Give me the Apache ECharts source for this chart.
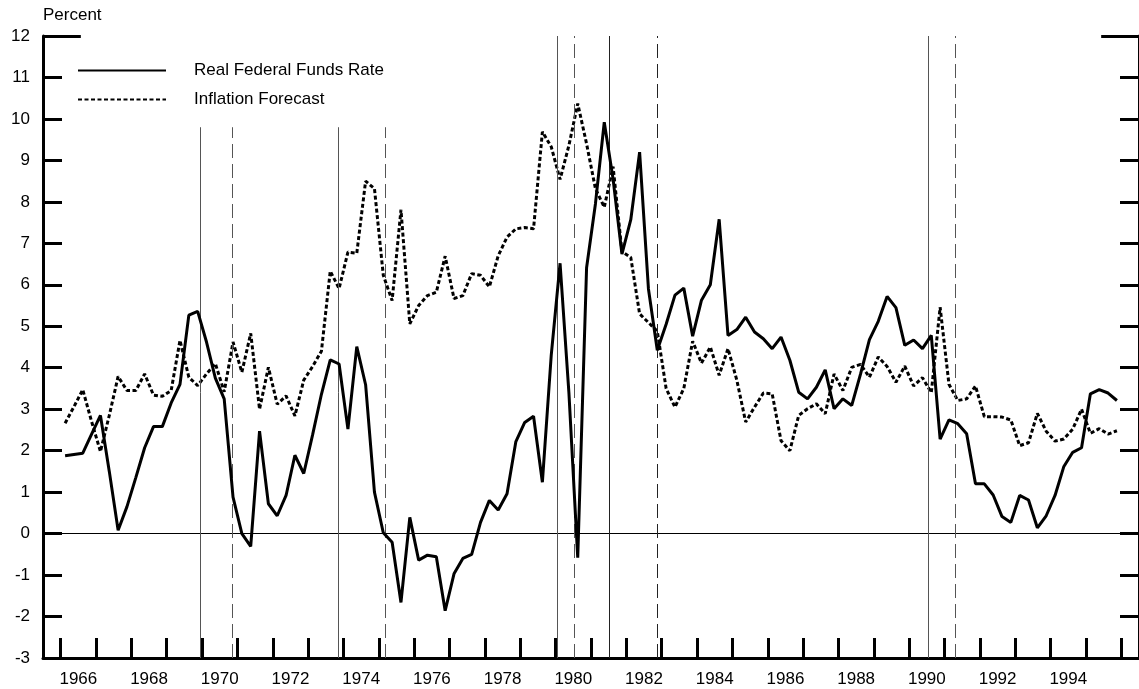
<!DOCTYPE html>
<html>
<head>
<meta charset="utf-8">
<script src="https://cdn.jsdelivr.net/npm/echarts@6/dist/echarts.min.js"></script>
<style>
  html, body { margin: 0; padding: 0; background: #fff; }
  #chart { width: 1139px; height: 689px; }
</style>
</head>
<body>
<div id="chart"></div>
<script>
// quarterly data, 1966Q1 - 1995Q4
const startYear = 1966
const realRate = [
  1.88, 1.91, 1.94, 2.40, 2.85, 1.50, 0.08, 0.65, 1.35, 2.07,
  2.58, 2.58, 3.15, 3.60, 5.27, 5.36, 4.62, 3.75, 3.25, 0.88,
  0.00, -0.31, 2.47, 0.72, 0.43, 0.92, 1.89, 1.45, 2.38, 3.36,
  4.19, 4.09, 2.52, 4.51, 3.59, 1.00, 0.02, -0.21, -1.66, 0.39,
  -0.64, -0.52, -0.56, -1.86, -0.97, -0.60, -0.50, 0.27, 0.80, 0.57,
  0.96, 2.22, 2.68, 2.83, 1.24, 4.30, 6.52, 3.40, -0.58, 6.41,
  7.95, 9.92, 8.55, 6.74, 7.57, 9.20, 5.90, 4.42, 5.05, 5.75,
  5.92, 4.76, 5.63, 6.00, 7.58, 4.78, 4.92, 5.22, 4.86, 4.70,
  4.46, 4.74, 4.18, 3.41, 3.25, 3.53, 3.95, 3.01, 3.25, 3.09,
  3.85, 4.68, 5.12, 5.72, 5.45, 4.54, 4.67, 4.46, 4.78, 2.28,
  2.74, 2.65, 2.41, 1.20, 1.20, 0.93, 0.41, 0.27, 0.92, 0.81,
  0.14, 0.43, 0.92, 1.62, 1.96, 2.07, 3.37, 3.47, 3.39, 3.21
]
const inflationForecast = [
  2.66, 3.06, 3.47, 2.70, 1.98, 2.85, 3.79, 3.45, 3.45, 3.85,
  3.34, 3.31, 3.45, 4.66, 3.77, 3.57, 3.85, 4.10, 3.42, 4.62,
  3.89, 4.83, 3.00, 4.01, 3.12, 3.32, 2.84, 3.70, 4.03, 4.40,
  6.33, 5.91, 6.79, 6.76, 8.50, 8.32, 6.23, 5.62, 7.81, 5.06,
  5.50, 5.74, 5.82, 6.69, 5.67, 5.74, 6.27, 6.23, 5.95, 6.70,
  7.15, 7.35, 7.38, 7.35, 9.69, 9.33, 8.54, 9.36, 10.37, 9.40,
  8.32, 7.87, 8.85, 6.80, 6.66, 5.30, 5.09, 4.88, 3.50, 3.05,
  3.50, 4.64, 4.11, 4.50, 3.82, 4.46, 3.70, 2.69, 3.05, 3.39,
  3.37, 2.24, 2.00, 2.85, 3.01, 3.13, 2.89, 3.85, 3.45, 4.01,
  4.08, 3.77, 4.26, 4.03, 3.65, 4.04, 3.56, 3.76, 3.40, 5.46,
  3.60, 3.21, 3.25, 3.56, 2.82, 2.82, 2.81, 2.74, 2.12, 2.19,
  2.90, 2.47, 2.23, 2.28, 2.52, 3.00, 2.42, 2.53, 2.40, 2.48
]
// business cycle peaks (solid) and troughs (dashed), decimal years
const peaks = [1969.94, 1973.86, 1980.04, 1981.53, 1990.54]
const troughs = [1970.84, 1975.18, 1980.54, 1982.86, 1991.29]
const yearTicks = []
for (let y = 1966; y <= 1996; y++) yearTicks.push(y)
const yearLabels = []
for (let y = 1966; y <= 1994; y += 2) yearLabels.push(y + 0.5)

const xMin = 1965.5
const xMax = 1996.5
const quarterX = realRate.map((_, i) => startYear + 0.125 + i * 0.25)

// recession lines in the early years stop below the legend
const lineTop = x => (x < 1976 ? 9.8 : 12)

const font = 'Liberation Sans, Arial, sans-serif'

function vLine(x, dashed) {
  return [
    { coord: [x, -3], lineStyle: { color: x > 1981 && x < 1983 ? '#222' : '#555', width: 1, type: dashed ? [14, 6] : 'solid' } },
    { coord: [x, lineTop(x)] }
  ]
}

const chart = echarts.init(document.getElementById('chart'))
chart.setOption({
  animation: false,
  backgroundColor: '#fff',
  grid: { left: 43, top: 36, width: 1100.5, height: 622, containLabel: false },
  legend: {
    orient: 'vertical',
    left: 77,
    top: 62,
    padding: 0,
    itemWidth: 88,
    itemHeight: 14,
    itemGap: 12,
    itemStyle: { opacity: 0 },
    textStyle: { fontFamily: font, fontSize: 17, color: '#000', padding: [0, 0, 0, 23] },
    data: ['Real Federal Funds Rate', 'Inflation Forecast']
  },
  xAxis: {
    type: 'value',
    min: xMin,
    max: xMax,
    splitLine: { show: false },
    axisLine: { onZero: false, lineStyle: { color: '#000', width: 3 } },
    axisTick: { inside: true, length: 20, lineStyle: { color: '#000', width: 3 }, customValues: yearTicks },
    axisLabel: {
      customValues: yearLabels,
      formatter: v => String(Math.floor(v)),
      fontFamily: font, fontSize: 17, color: '#000', margin: 13
    }
  },
  yAxis: [
    {
      type: 'value',
      min: -3,
      max: 12,
      interval: 1,
      name: 'Percent',
      nameLocation: 'end',
      nameGap: 12,
      nameTextStyle: { fontFamily: font, fontSize: 17, color: '#000', align: 'left' },
      splitLine: { show: false },
      axisLine: { show: true, onZero: false, lineStyle: { color: '#000', width: 3 } },
      axisTick: { inside: true, length: 19, lineStyle: { color: '#000', width: 3 } },
      axisLabel: { fontFamily: font, fontSize: 17, color: '#000', margin: 13 }
    },
    {
      type: 'value',
      position: 'right',
      min: -3,
      max: 12,
      interval: 1,
      splitLine: { show: false },
      axisLine: { show: true, onZero: false, lineStyle: { color: '#000', width: 3 } },
      axisTick: { inside: true, length: 19, lineStyle: { color: '#000', width: 3 } },
      axisLabel: { show: false }
    }
  ],
  series: [
    {
      name: 'Real Federal Funds Rate',
      type: 'line',
      symbol: 'none',
      z: 5,
      data: realRate.map((v, i) => [quarterX[i], v]),
      lineStyle: { color: '#000', width: 3 },
      itemStyle: { color: '#000' }
    },
    {
      name: 'Inflation Forecast',
      type: 'line',
      symbol: 'none',
      z: 4,
      data: inflationForecast.map((v, i) => [quarterX[i], v]),
      lineStyle: { color: '#000', width: 3, type: [4, 2.5] },
      itemStyle: { color: '#000' }
    },
    {
      // reference lines: zero line, recession dates, top stubs
      type: 'line',
      data: [],
      clip: false,
      silent: true,
      markLine: {
        silent: true,
        symbol: 'none',
        label: { show: false },
        animation: false,
        data: [
          [{ coord: [xMin, 0], lineStyle: { color: '#000', width: 1, type: 'solid' } }, { coord: [xMax, 0] }],
          ...peaks.map(x => vLine(x, false)),
          ...troughs.map(x => vLine(x, true)),
          [{ coord: [xMin, 12], lineStyle: { color: '#000', width: 3, type: 'solid' } }, { coord: [xMin + 1.07, 12] }],
          [{ coord: [xMax - 1.07, 12], lineStyle: { color: '#000', width: 3, type: 'solid' } }, { coord: [xMax, 12] }]
        ]
      }
    }
  ]
})
</script>
</body>
</html>
